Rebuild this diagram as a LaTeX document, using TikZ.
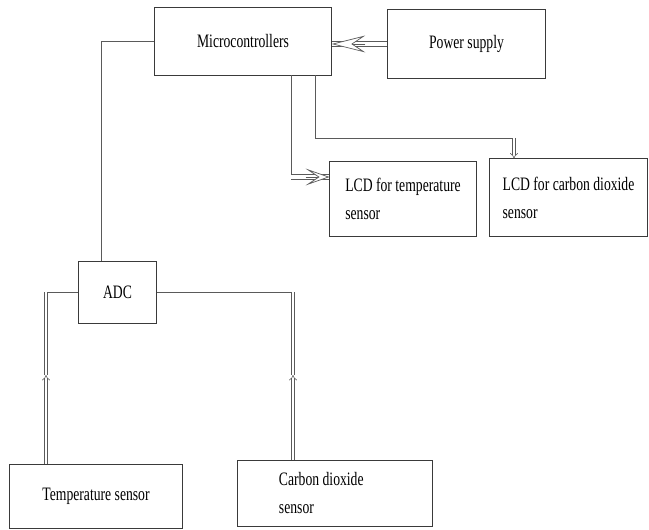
\documentclass[tikz,border=0pt]{standalone}
\usepackage{fontspec}
\newfontfamily\boxfont{Liberation Serif}[FakeStretch=0.72]
\definecolor{bdLine}{HTML}{3A3A3A}
\definecolor{bdWire}{HTML}{5A5A5A}
\usetikzlibrary{calc,arrows.meta}

\tikzset{
  blockbox/.style={draw=bdLine, line width=0.7pt, rectangle, inner sep=2pt, align=flush left,
    font=\boxfont\fontsize{13.5}{20}\selectfont, text=black},
  wire/.style={draw=bdWire, line width=0.6pt},
  dblshaft/.style={draw=bdWire, line width=0.5pt, double, double distance=3pt},
  hollowtip/.style={draw=bdWire, line width=0.5pt,
    -{Stealth[length=#1, width=12pt, inset=9pt, fill=white]}},
  hollowtip/.default=17pt,
  dblline/.style={draw=bdWire, line width=0.4pt, double, double distance=1.6pt},
  dbltip/.style={dblline, -{Implies}},
}

\begin{document}
\begin{tikzpicture}[x=0.025cm, y=-0.025cm]
  \useasboundingbox (0,0) rectangle (649,530);

  % blocks
  \node[blockbox, minimum width=4.4cm, minimum height=1.675cm] (micro) at (243,41.5) {Microcontrollers};
  \node[blockbox, minimum width=3.925cm, minimum height=1.7cm] (power) at (466.5,44) {Power supply};
  \node[blockbox, minimum width=1.925cm, minimum height=1.525cm] (adc) at (117.5,292.5) {ADC};
  \node[blockbox, minimum width=3.65cm, minimum height=1.85cm] (lcdt) at (403,199) {LCD for temperature\\sensor};
  \node[blockbox, minimum width=3.925cm, minimum height=1.925cm] (lcdc) at (568.5,197.5) {LCD for carbon dioxide\\sensor};
  \node[blockbox, minimum width=4.3cm, minimum height=1.6cm] (tsens) at (96,496) {Temperature sensor};
  \node[blockbox, minimum width=4.85cm, minimum height=1.65cm, text width=2.8cm] (csens) at (335,493) {Carbon dioxide\\sensor};

  % bends
  \coordinate (lt) at (291,177);
  \coordinate (lcbend) at (315,138);
  \coordinate (lc) at (514,138);
  \coordinate (tcol) at (46,375);
  \coordinate (ccol) at (293,375);
  \coordinate (pin) at (power.west -| micro.east);
  \coordinate (lin) at (lt -| lcdt.west);

  % connectors
  \draw[dblshaft] (power.west) -- (pin);
  \draw[hollowtip=24pt] ($(pin)!24pt!(power.west)$) -- (pin);
  \draw[wire] (micro.west) -| ($(adc.north west)!0.3!(adc.north east)$);
  \draw[wire] (micro.south -| lt) -- (lt);
  \draw[dblshaft] (lt) -- (lin);
  \draw[hollowtip] ($(lin)!17pt!(lt)$) -- (lin);
  \draw[wire] (micro.south -| lcbend) |- (lc);
  \draw[dbltip] (lc) -- (lc |- lcdc.north);

  \draw[wire] (adc.west) -- (adc.west -| tcol);
  \draw[dblline] (adc.west -| tcol) -- (tcol);
  \draw[dbltip] (tsens.north -| tcol) -- (tcol);
  \draw[wire] (adc.east) -- (adc.east -| ccol);
  \draw[dblline] (adc.east -| ccol) -- (ccol);
  \draw[dbltip] (csens.north -| ccol) -- (ccol);
\end{tikzpicture}
\end{document}
